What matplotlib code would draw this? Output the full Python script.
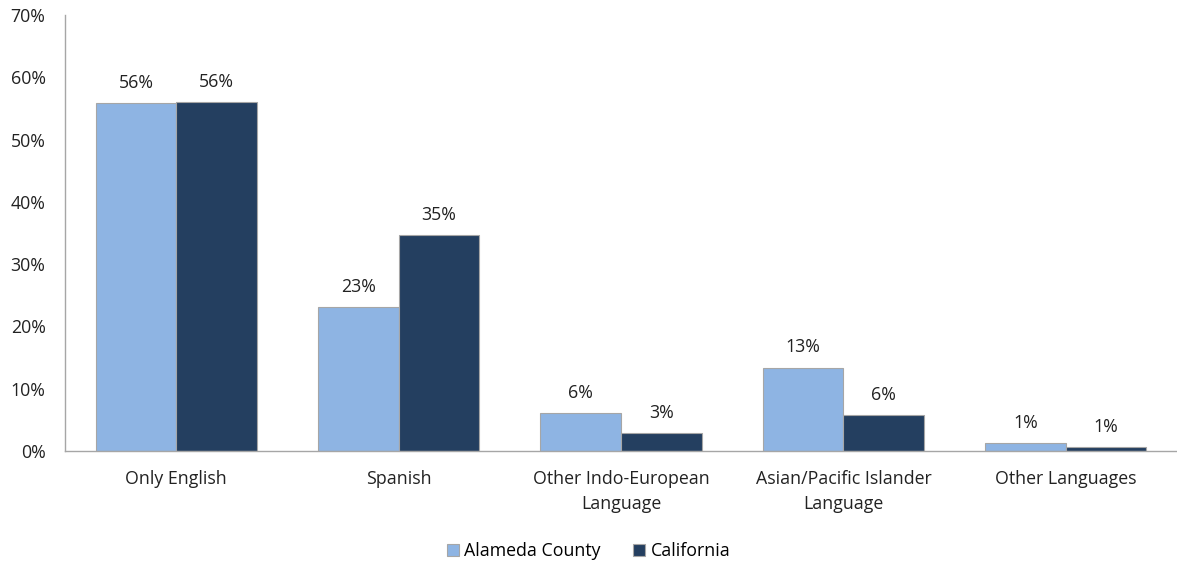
import matplotlib.pyplot as plt
import numpy as np

plt.rcParams['font.family'] = ['Open Sans', 'DejaVu Sans']

categories = ["Only English", "Spanish", "Other Indo-European\nLanguage",
              "Asian/Pacific Islander\nLanguage", "Other Languages"]
alameda = [55.9, 23.1, 6.1, 13.4, 1.3]
california = [56.0, 34.6, 2.9, 5.8, 0.7]
series_names = ["Alameda County", "California"]
colors = ["#8EB4E3", "#243F60"]

fs = 12.8
fig = plt.figure(figsize=(11.77, 5.64), dpi=100)
ax = fig.add_axes([65 / 1177, 1 - 451 / 564, 1 - 65 / 1177, (451 - 15) / 564])

x = np.arange(len(categories))
w = 0.362
bars_a = ax.bar(x - w / 2, alameda, w, color=colors[0], edgecolor="#A6A6A6",
                linewidth=0.8, label=series_names[0])
bars_c = ax.bar(x + w / 2, california, w, color=colors[1], edgecolor="#A6A6A6",
                linewidth=0.8, label=series_names[1])

for bars in (bars_a, bars_c):
    for b in bars:
        ax.annotate(f"{round(b.get_height()):.0f}%",
                    (b.get_x() + b.get_width() / 2, b.get_height()),
                    xytext=(0, 8), textcoords="offset points",
                    ha="center", va="bottom", fontsize=fs, color="#222222")

ax.set_xlim(-0.5, 4.5)
ax.set_ylim(0, 70)
ax.set_yticks(range(0, 71, 10))
ax.set_yticklabels([f"{v}%" for v in range(0, 71, 10)])
ax.set_xticks(x)
ax.set_xticklabels(categories, linespacing=1.45)
ax.tick_params(length=0, labelsize=fs, colors="#222222")
ax.tick_params(axis="y", pad=14)
ax.tick_params(axis="x", pad=14)
for s in ("top", "right"):
    ax.spines[s].set_visible(False)
for s in ("left", "bottom"):
    ax.spines[s].set_color("#A6A6A6")
    ax.spines[s].set_linewidth(1.0)

fig.legend(loc="center", bbox_to_anchor=(0.5, 1 - 551 / 564), ncol=2, frameon=False,
           fontsize=fs, handlelength=0.7, handleheight=0.7, handletextpad=0.3,
           columnspacing=1.8)

fig.savefig("out.png", dpi=100)
